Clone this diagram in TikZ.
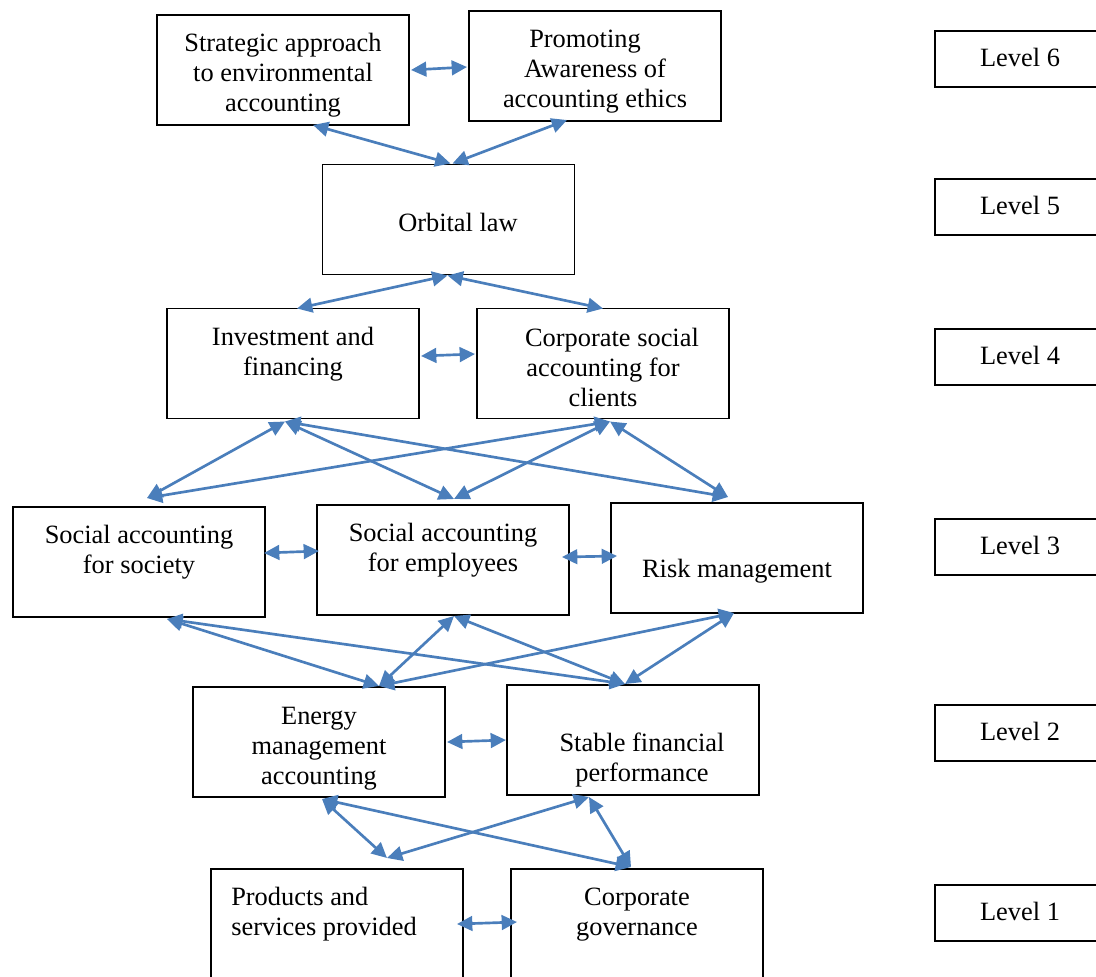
\documentclass[tikz,border=0pt]{standalone}
\usepackage{fontspec}
\setmainfont{Liberation Serif}
\usetikzlibrary{arrows.meta,calc}
\definecolor{arrowblue}{HTML}{4A7EBB}
\begin{document}
\begin{tikzpicture}[x=0.75pt,y=-0.75pt,
 box/.style={draw=black, line width=0.85pt, minimum width=189pt, minimum height=82.5pt, inner sep=0pt, outer sep=0pt},
 lvl/.style={draw=black, line width=0.85pt, minimum width=127.5pt, minimum height=42pt, inner sep=0pt, outer sep=0pt},
 txt/.style={font=\fontsize{19.8}{22.5}\selectfont, align=center, inner sep=0pt},
 arr/.style={draw=arrowblue, line width=2pt, {Triangle[length=11.5pt,width=11pt]}-{Triangle[length=11.5pt,width=11pt]}},
]
\useasboundingbox (0,0) rectangle (1096,976);
% boxes
\node[box] (sa) at (283,70) {};
\node[box] (pa) at (595,66) {};
\node[box] (ol) at (448.5,219.5) {};
\node[box] (ib) at (293,363.5) {};
\node[box] (cs) at (603,363.5) {};
\node[box] (ss) at (139,562) {};
\node[box] (se) at (443,560) {};
\node[box] (rm) at (737,558) {};
\node[box] (em) at (319,742) {};
\node[box] (sf) at (633,740) {};
\node[box] (ps) at (337,924) {};
\node[box] (cg) at (637,924) {};
% level boxes
\node[lvl] (l6) at (1020,59) {};
\node[lvl] (l5) at (1020,207) {};
\node[lvl] (l4) at (1020,357) {};
\node[lvl] (l3) at (1020,547) {};
\node[lvl] (l2) at (1020,733) {};
\node[lvl] (l1) at (1020,913) {};
% texts
\node[txt] (tsa) at (283,75) {Strategic approach\\to environmental\\accounting};
\node[txt] (tpa) at (595,72) {Promoting\hspace*{15pt}\\Awareness of\hspace*{7.5pt}\\accounting ethics};
\node[txt] (tol) at (458,222) {Orbital law};
\node[txt] (tib) at (293,354) {Investment and\\financing};
\node[txt] (tcs) at (603,367) {\hspace*{13.5pt}Corporate social\\accounting for\\clients};
\node[txt] (tss) at (139,552) {Social accounting\\for society};
\node[txt] (tse) at (443,550) {Social accounting\\for employees};
\node[txt] (trm) at (737,571) {Risk management};
\node[txt] (tem) at (319,749) {Energy\\management\\accounting};
\node[txt] (tsf) at (642,760) {Stable financial\\performance};
\node[txt, align=left, anchor=west] (tps) at (231,914.5) {Products and\\services provided};
\node[txt] (tcg) at (637,914.5) {Corporate\\governance};
\node[txt] (tl6) at (1020,57) {Level 6};
\node[txt] (tl5) at (1020,205) {Level 5};
\node[txt] (tl4) at (1020,355) {Level 4};
\node[txt] (tl3) at (1020,545) {Level 3};
\node[txt] (tl2) at (1020,731) {Level 2};
\node[txt] (tl1) at (1020,911) {Level 1};
% arrows
\draw[arr] ($(sa.east)+(2,0)$) -- ($(pa.west)+(-2,1)$);
\draw[arr] ($(sa.south)+(30,0)$) -- ($(ol.north)+(2,-1)$);
\draw[arr] ($(pa.south)+(-28,-1)$) -- ($(ol.north)+(4,-1)$);
\draw[arr] ($(ol.south)+(-1,1)$) -- ($(ib.north)+(4,0)$);
\draw[arr] ($(ol.south)+(-1,1)$) -- ($(cs.north)+(0,0)$);
\draw[arr] ($(ib.east)+(2,-7.5)$) -- ($(cs.west)+(-2,-9.5)$);
\draw[arr] ($(ib.south)+(-8,3)$) -- ($(ss.north)+(8,-9)$);
\draw[arr] ($(ib.south)+(-8,3)$) -- ($(se.north)+(11,-6)$);
\draw[arr] ($(ib.south)+(-8,3)$) -- ($(rm.north)+(-9,-6)$);
\draw[arr] ($(cs.south)+(7,3)$) -- ($(ss.north)+(8,-9)$);
\draw[arr] ($(cs.south)+(7,3)$) -- ($(se.north)+(11,-6)$);
\draw[arr] ($(cs.south)+(7,3)$) -- ($(rm.north)+(-9,-6)$);
\draw[arr] ($(ss.east)+(-1,-9)$) -- ($(se.west)+(2,-9)$);
\draw[arr] ($(se.east)+(-7,-3)$) -- ($(rm.west)+(6,-2)$);
\draw[arr] ($(ss.south)+(28,2)$) -- ($(em.north)+(60,-1)$);
\draw[arr] ($(ss.south)+(28,2)$) -- ($(sf.north)+(-8,-1)$);
\draw[arr] ($(se.south)+(11,1)$) -- ($(em.north)+(60,-1)$);
\draw[arr] ($(se.south)+(11,1)$) -- ($(sf.north)+(-8,-1)$);
\draw[arr] ($(rm.south)+(-3,0)$) -- ($(em.north)+(60,-1)$);
\draw[arr] ($(rm.south)+(-3,0)$) -- ($(sf.north)+(-8,-1)$);
\draw[arr] ($(em.east)+(2,0)$) -- ($(sf.west)+(-1,0)$);
\draw[arr] ($(em.south)+(3,2)$) -- ($(ps.north)+(50,-11)$);
\draw[arr] ($(em.south)+(3,2)$) -- ($(cg.north)+(-6,-2)$);
\draw[arr] ($(sf.south)+(-44,2)$) -- ($(ps.north)+(50,-11)$);
\draw[arr] ($(sf.south)+(-44,2)$) -- ($(cg.north)+(-6,-2)$);
\draw[arr] ($(ps.east)+(-6,0)$) -- ($(cg.west)+(6,-2)$);
\end{tikzpicture}
\end{document}
